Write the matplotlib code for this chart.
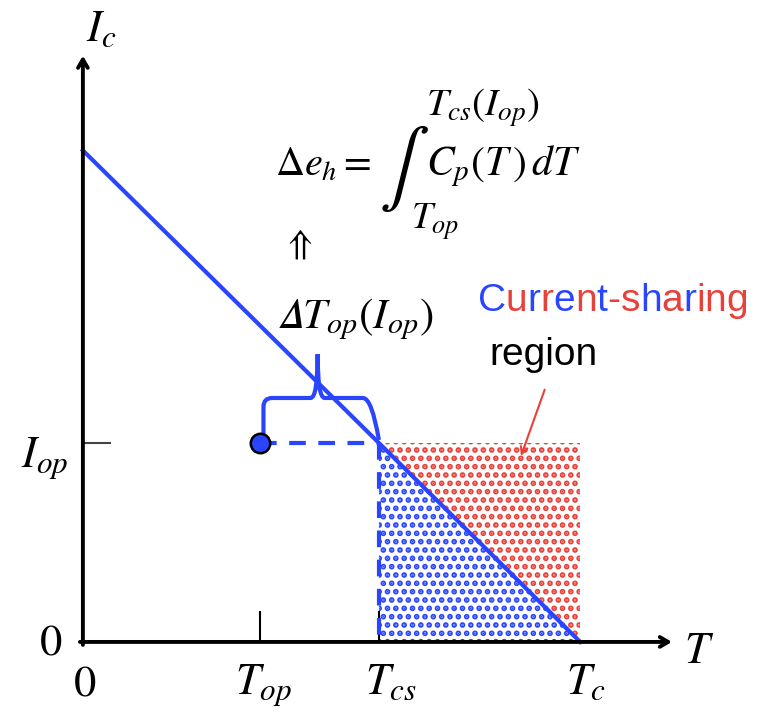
import matplotlib
matplotlib.use("Agg")
import matplotlib.pyplot as plt
from matplotlib.path import Path
from matplotlib.patches import PathPatch

plt.rcParams["mathtext.fontset"] = "stix"
plt.rcParams["hatch.linewidth"] = 2.8

# values (arbitrary units)
T_op = 3.0
T_cs = 5.0
T_c = 8.4
I_c0 = 8.3
I_op = I_c0 * (1 - T_cs / T_c)
line_T = [0, T_c]
line_I = [I_c0, 0]

BLUE = "#2a45ff"
RED = "#e8413a"

# per-letter colours of the "Current-sharing" label
label_chars = list("Current-sharing")
label_cols = ["b", "r", "b", "r", "b", "r", "b", "r", "r", "b", "r", "b", "r", "r", "r"]

fig = plt.figure(figsize=(7.59, 7.13), dpi=100)
ax = fig.add_axes([0, 0, 1, 1])
ax.set_xlim(-1.40, 11.42)
ax.set_ylim(-1.20, 10.84)
ax.axis("off")

# axes with open arrow heads
arr = dict(arrowstyle="->,head_length=0.6,head_width=0.35", lw=2.8, color="black",
           shrinkA=0, shrinkB=0)
ax.annotate("", xy=(0, 9.9), xytext=(0, -0.05), arrowprops=arr)
ax.annotate("", xy=(9.95, 0), xytext=(-0.05, 0), arrowprops=arr)

# shaded regions
ax.fill([T_cs, T_cs, T_c], [0, I_op, 0], facecolor="none", edgecolor=BLUE,
        hatch="..", lw=0)
ax.fill([T_cs, T_c, T_c], [I_op, I_op, 0], facecolor="none", edgecolor=RED,
        hatch="..", lw=0)

# critical current line
ax.plot(line_T, line_I, color=BLUE, lw=3)

# ticks
ax.plot([0, 0.45], [I_op, I_op], color="#444444", lw=1.5)
ax.plot([T_op, T_op], [0, 0.5], color="black", lw=1.5)
ax.plot([T_cs, T_cs], [0, 0.5], color="black", lw=1.5)

# dashed guides
ax.plot([T_op, T_cs], [I_op, I_op], color=BLUE, lw=3, ls=(0, (4, 3)))
ax.plot([T_cs, T_cs], [I_op, 0], color=BLUE, lw=3, ls=(0, (4, 3)))
ax.plot([T_op], [I_op], "o", ms=14, mfc=BLUE, mec="black", mew=1.8, zorder=5)

# brace between T_op and T_cs
bl, br = T_op + 0.05, T_cs - 0.12
bm = (bl + br) / 2
bb, bt, tip = I_op + 0.15, I_op + 0.76, I_op + 1.5
r = 0.15
verts = [(bl, bb), (bl, bt - r), (bl, bt), (bl + r, bt), (bm - 0.12, bt),
         (bm, bt), (bm, tip), (bm, bt), (bm + 0.12, bt), (br - r, bt),
         (br, bt), (br + 0.12, bb - 0.1)]
codes = [Path.MOVETO, Path.LINETO, Path.CURVE3, Path.CURVE3, Path.LINETO,
         Path.CURVE3, Path.CURVE3, Path.CURVE3, Path.CURVE3, Path.LINETO,
         Path.CURVE3, Path.CURVE3]
ax.add_patch(PathPatch(Path(verts, codes), facecolor="none", edgecolor=BLUE, lw=3))

# axis labels
ax.text(0.05, 10.0, r"$I_c$", fontsize=32, ha="left", va="bottom")
ax.text(10.15, -0.15, r"$T$", fontsize=32, ha="left", va="center")
ax.text(0.03, -0.9, r"$0$", fontsize=32, ha="center", va="baseline")
ax.text(-0.35, 0.0, r"$0$", fontsize=32, ha="right", va="center")
ax.text(-0.25, I_op - 0.25, r"$I_{op}$", fontsize=32, ha="right", va="center")
ax.text(T_op + 0.05, -0.88, r"$T_{op}$", fontsize=32, ha="center", va="baseline")
ax.text(T_cs + 0.2, -0.88, r"$T_{cs}$", fontsize=32, ha="center", va="baseline")
ax.text(T_c + 0.1, -0.88, r"$T_c$", fontsize=32, ha="center", va="baseline")

# formula
ax.text(3.24, 7.88, r"$\Delta e_h =$", fontsize=29, ha="left", va="baseline")
ax.text(5.42, 7.98, r"$\int$", fontsize=54, ha="center", va="center")
ax.text(5.8, 8.88, r"$T_{cs}(I_{op})$", fontsize=28, ha="left", va="baseline")
ax.text(5.8, 7.88, r"$C_p(T\,)\,dT$", fontsize=30, ha="left", va="baseline")
ax.text(5.55, 6.98, r"$T_{op}$", fontsize=27, ha="left", va="baseline")
ax.text(3.62, 6.72, r"$\Uparrow$", fontsize=26, ha="center", va="center")
ax.text(3.28, 5.3, "$\U0001D6E5 T_{op}(I_{op})$", fontsize=31, ha="left", va="baseline")

# multicoloured label, one letter at a time
fig.canvas.draw()
renderer = fig.canvas.get_renderer()
x0 = 6.67
for ch, c in zip(label_chars, label_cols):
    t = ax.text(x0, 5.58, ch, fontsize=28, family="Liberation Sans",
                color=BLUE if c == "b" else RED, ha="left", va="baseline")
    bb_ = t.get_window_extent(renderer).transformed(ax.transData.inverted())
    x0 = bb_.x1
ax.text(7.78, 4.68, "region", fontsize=28, family="Liberation Sans",
        ha="center", va="baseline")

ax.annotate("", xy=(T_c - 1.0, I_op - 0.22), xytext=(7.8, 4.26),
            arrowprops=dict(arrowstyle="->,head_length=0.5,head_width=0.25",
                            color=RED, lw=1.5, shrinkA=0, shrinkB=0))

fig.savefig("out.png", dpi=100)
